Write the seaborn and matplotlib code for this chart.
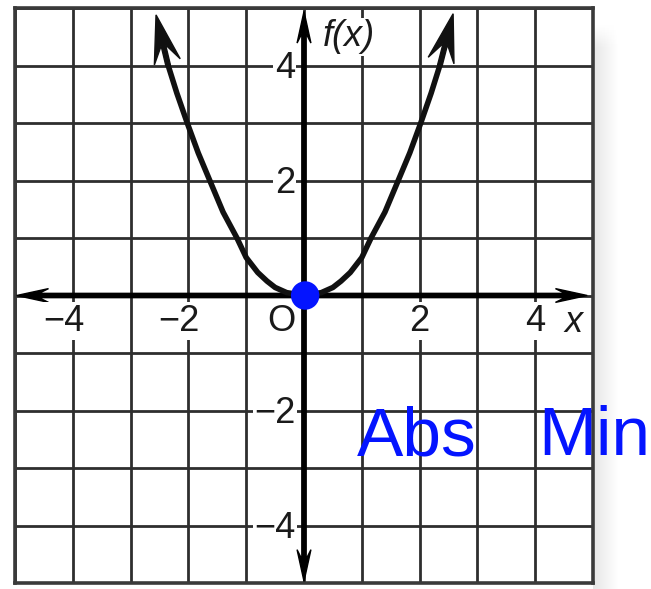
import numpy as np
import seaborn as sns
import matplotlib.pyplot as plt

sns.set_style("white")
plt.rcParams["font.family"] = ["Liberation Sans", "DejaVu Sans"]

# points (left tip / right tip carry the arrowheads)
curve_x = [-2.35, -2.2, -2.02, -1.83, -1.63, -1.4, -1.16, -1.0, -0.8, -0.64, -0.5, -0.3, 0.0,
           0.3, 0.5, 0.64, 0.8, 1.0, 1.16, 1.4, 1.63, 1.83, 2.02, 2.2, 2.35]
curve_y = [4.0, 3.52, 3.0, 2.48, 2.0, 1.45, 1.0, 0.66, 0.4, 0.25, 0.14, 0.05, 0.0,
           0.05, 0.14, 0.25, 0.4, 0.66, 1.0, 1.45, 2.0, 2.48, 3.0, 3.52, 4.0]
tip_x = [-2.56, 2.58]
tip_y = [4.88, 4.9]

vertex_x = [0.02]
vertex_y = [0.0]

xtick_vals = [-4, -2, 2, 4]
xtick_text = ["−4", "−2", "2", "4"]
ytick_vals = [4, 2, -2, -4]
ytick_text = ["4", "2", "−2", "−4"]

fig = plt.figure(figsize=(6.51, 5.89), dpi=100)

# soft drop shadow on the right of the graph paper
sh = fig.add_axes([593 / 651, 0, 26 / 651, 566 / 589], zorder=-1)
shade = np.linspace(0.9, 1.0, 26)[None, :] * np.ones((120, 1))
fade = np.clip(np.linspace(0, 1, 120)[:, None] * 25, 0, 1)
shade = 1 - (1 - shade) * fade
sh.imshow(shade, cmap="gray", vmin=0, vmax=1, aspect="auto", interpolation="bilinear")
sh.axis("off")

ax = fig.add_axes([15 / 651, 6 / 589, 578 / 651, 575 / 589])
ax.set_xlim(-5, 5)
ax.set_ylim(-5, 5)
ax.set_xticks(range(-5, 6))
ax.set_yticks(range(-5, 6))
ax.tick_params(length=0, labelbottom=False, labelleft=False)
ax.grid(True, color="#2e2e2e", linewidth=2.0)
ax.set_axisbelow(True)
for s in ax.spines.values():
    s.set_color("#3a3a3a")
    s.set_linewidth(2.6)

# axes with arrowheads
ax_kw = dict(width=0.075, head_width=0.24, head_length=0.55, overhang=0.3,
             length_includes_head=True, color="black", zorder=3)
ax.arrow(0, 0, -4.97, 0, **ax_kw)
ax.arrow(0, 0, 4.9, 0, **ax_kw)
ax.arrow(0, 0, 0, 4.94, **ax_kw)
ax.arrow(0, 0, 0, -4.97, **ax_kw)

# parabola
sns.lineplot(x=curve_x, y=curve_y, color="#111111", linewidth=4.0, ax=ax, zorder=4)
for bx, by, tx, ty in [(curve_x[0], curve_y[0], tip_x[0], tip_y[0]),
                       (curve_x[-1], curve_y[-1], tip_x[1], tip_y[1])]:
    ax.arrow(bx, by, tx - bx, ty - by, width=0.08, head_width=0.46, head_length=0.84,
             overhang=0.35, length_includes_head=True, color="#111111", zorder=4)

# labels
lab = dict(fontsize=26, color="#1a1a1a", va="center", zorder=5,
           bbox=dict(boxstyle="square,pad=0.04", fc="white", ec="none"))
for v, t in zip(xtick_vals, xtick_text):
    if v < 0:
        ax.text(v + 0.2, -0.45, t, ha="right", **lab)
    else:
        ax.text(v, -0.45, t, ha="center", **lab)
ax.text(-0.4, -0.45, "O", ha="center", **lab)
ax.text(4.66, -0.47, "x", ha="center", style="italic", **lab)
for v, t in zip(ytick_vals, ytick_text):
    if v < 0:
        ax.text(-0.14, v - 0.05, t, ha="right", **lab)
    else:
        ax.text(-0.33, v - 0.05, t, ha="center", **lab)
ax.text(0.77, 4.5, "f(x)", ha="center", style="italic", **lab)

# vertex marked in blue
sns.scatterplot(x=vertex_x, y=vertex_y, s=420, color="#0414ff", edgecolor="none",
                ax=ax, zorder=6)

# handwritten note
hand = dict(fontsize=50, color="#0414ff", va="baseline",
            family=["Liberation Sans Narrow", "Liberation Sans", "DejaVu Sans"])
fig.text(357 / 651, (589 - 455) / 589, "Abs", **hand)
fig.text(538 / 651, (589 - 455) / 589, "Min", **hand)

fig.savefig("out.png", dpi=100)
